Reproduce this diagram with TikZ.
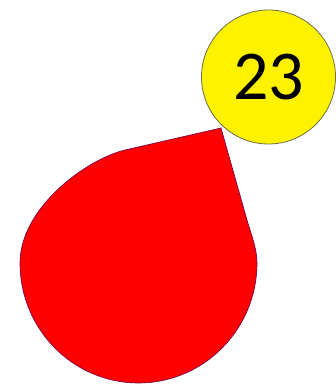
\documentclass[tikz,border=0pt]{standalone}
\usepackage{fontspec}
\setmainfont{Carlito}

\tikzset{
  drop/.style={fill=red, draw=red!55!blue!70!black, line width=0.6pt},
  badge/.style={circle, fill=yellow, draw=yellow!35!black, line width=0.8pt,
    minimum size=134pt, inner sep=0pt, font=\fontsize{70}{80}\selectfont},
}

\begin{document}
\begin{tikzpicture}[x=1pt, y=1pt]
  \useasboundingbox (0,0) rectangle (336,385);
  % 물방울
  \coordinate (tip) at (221,257);
  \coordinate (rside) at (247,165);
  \coordinate (shoulder) at (125,235);
  \draw[drop] (tip) -- (rside) .. controls (250.9,151.2) and (257,137) .. (257,122)
    arc[start angle=0, end angle=-180, x radius=118.5, y radius=120]
    .. controls (20,177) and (86.1,225.7) .. (shoulder) -- cycle;
  % 번호
  \node[badge] (num) at (268.5,308) {23};
\end{tikzpicture}
\end{document}
